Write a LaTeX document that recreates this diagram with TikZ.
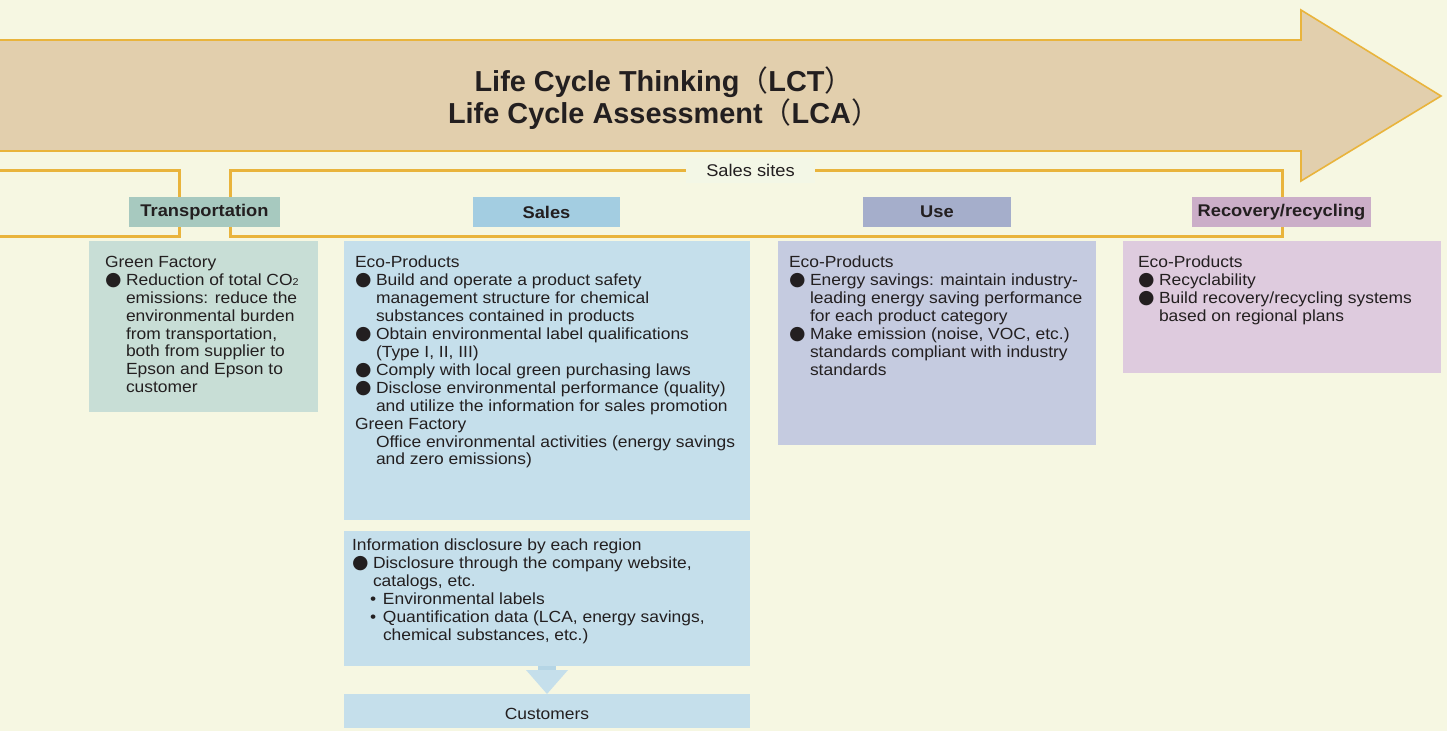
\documentclass[tikz,border=0pt]{standalone}
\usepackage{fontspec}
\setmainfont{Liberation Sans}[FakeStretch=1.08]
\newfontfamily\titlefont{Liberation Sans}
\newfontfamily\dejavu{DejaVu Sans}
\newfontfamily\cjk{Noto Sans CJK JP}
\usetikzlibrary{calc}
\definecolor{bg}{RGB}{246,247,226}
\definecolor{bgl}{RGB}{243,247,230}
\definecolor{arrowfill}{RGB}{226,207,173}
\definecolor{gold}{RGB}{233,180,60}
\definecolor{ink}{RGB}{35,31,32}
\definecolor{tlab}{RGB}{167,201,191}
\definecolor{tpan}{RGB}{200,222,214}
\definecolor{slab}{RGB}{163,205,225}
\definecolor{span}{RGB}{197,223,235}
\definecolor{sarr}{RGB}{181,213,229}
\definecolor{ulab}{RGB}{165,174,203}
\definecolor{upan}{RGB}{197,203,224}
\definecolor{rlab}{RGB}{203,174,200}
\definecolor{rpan}{RGB}{222,203,222}
\newcommand{\bu}{\makebox[21bp][l]{\raisebox{0pt}[0pt][0pt]{\dejavu\fontsize{19}{18}\selectfont ●}}}
\newcommand{\ind}{\hspace*{21bp}}
\newcommand{\sbu}{\hspace*{18bp}\makebox[13bp][l]{•}}
\newcommand{\sind}{\hspace*{31bp}}
\begin{document}
\begin{tikzpicture}[x=1bp,y=-1bp,
  every node/.style={inner sep=0pt, outer sep=0pt, text=ink},
  body/.style={font=\fontsize{16.2}{18}\selectfont, align=left, anchor=north west},
  stage/.style={minimum height=30bp, font=\fontsize{17}{20}\selectfont\bfseries},
  panel/.style={anchor=north west},
  bracket/.style={draw=gold, line width=3bp},
  flow/.style={draw=gold, line width=1.6bp, line join=miter}]
\useasboundingbox (0,0) rectangle (1447,731);
\fill[bg] (0,0) rectangle (1447,731);
% big arrow
\fill[arrowfill] (-5,40) -- (1301,40) -- (1301,10) -- (1441,96) -- (1301,181) -- (1301,151) -- (-5,151) -- cycle;
\draw[flow] (-5,40) -- (1301,40) -- (1301,10) -- (1441,96) -- (1301,181) -- (1301,151) -- (-5,151);
\node[font=\titlefont\fontsize{29}{32}\selectfont\bfseries, align=center] (title) at (664,98.5)
  {Life Cycle Thinking{\cjk\mdseries （}LCT{\cjk\mdseries ）}\\Life Cycle Assessment{\cjk\mdseries （}LCA{\cjk\mdseries ）}};
% brackets
\draw[bracket] (-5,170) -| (179,236) -- (-5,236);
\draw[bracket] (230,170) rectangle (1282,236);
\node[fill=bgl, minimum width=129bp, minimum height=25bp, font=\fontsize{17}{20}\selectfont] (sites) at (750.5,170) {Sales sites};
% stage labels
\node[stage, fill=tlab, minimum width=151bp] (trans) at (204.5,212) {Transportation};
\node[stage, fill=slab, minimum width=147bp] (sales) at (546.5,212) {Sales};
\node[stage, fill=ulab, minimum width=148bp] (use) at (937,212) {Use};
\node[stage, fill=rlab, minimum width=179bp] (recov) at (1281.5,212) {Recovery/recycling};
% panels
\node[panel, fill=tpan, minimum width=229bp, minimum height=171bp] (tbox) at (89,241) {};
\node[panel, fill=span, minimum width=406bp, minimum height=279bp] (sbox) at (344,241) {};
\node[panel, fill=span, minimum width=406bp, minimum height=135bp] (ibox) at (344,531) {};
\node[panel, fill=span, minimum width=406bp, minimum height=34bp] (cbox) at (344,694) {};
\node[font=\fontsize{16.2}{18}\selectfont] (ctext) at ($(cbox.center)+(0,3)$) {Customers};
\node[panel, fill=upan, minimum width=318bp, minimum height=204bp] (ubox) at (778,241) {};
\node[panel, fill=rpan, minimum width=318bp, minimum height=132bp] (rbox) at (1123,241) {};
% down arrow
\fill[sarr] ($(ibox.south)+(-9,0)$) rectangle ($(ibox.south)+(9,4)$);
\fill[span] ($(ibox.south)+(-21,4)$) -- ($(ibox.south)+(21,4)$) -- (cbox.north) -- cycle;
% texts
\node[body] (ttext) at (105,256) {Green Factory\\
\bu Reduction of total CO{\fontsize{10}{10}\selectfont 2}\\
\ind emissions: reduce the\\
\ind environmental burden\\
\ind from transportation,\\
\ind both from supplier to\\
\ind Epson and Epson to\\
\ind customer};
\node[body] (stext) at (355,256) {Eco-Products\\
\bu Build and operate a product safety\\
\ind management structure for chemical\\
\ind substances contained in products\\
\bu Obtain environmental label qualifications\\
\ind (Type I, II, III)\\
\bu Comply with local green purchasing laws\\
\bu Disclose environmental performance (quality)\\
\ind and utilize the information for sales promotion\\
Green Factory\\
\ind Office environmental activities (energy savings\\
\ind and zero emissions)};
\node[body] (itext) at (352,539) {Information disclosure by each region\\
\bu Disclosure through the company website,\\
\ind catalogs, etc.\\
\sbu Environmental labels\\
\sbu Quantification data (LCA, energy savings,\\
\sind chemical substances, etc.)};
\node[body] (utext) at (789,256) {Eco-Products\\
\bu Energy savings: maintain industry-\\
\ind leading energy saving performance\\
\ind for each product category\\
\bu Make emission (noise, VOC, etc.)\\
\ind standards compliant with industry\\
\ind standards};
\node[body] (rtext) at (1138,256) {Eco-Products\\
\bu Recyclability\\
\bu Build recovery/recycling systems\\
\ind based on regional plans};
\end{tikzpicture}
\end{document}
